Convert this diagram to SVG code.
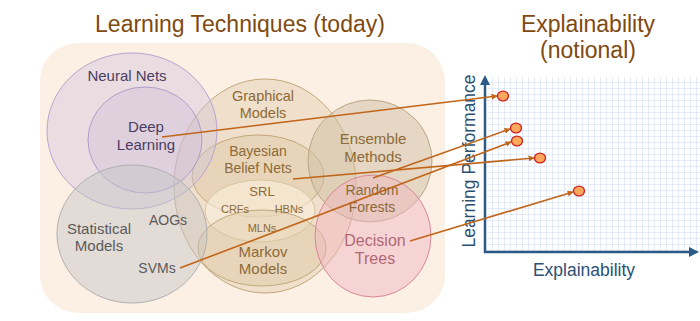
<svg xmlns="http://www.w3.org/2000/svg" width="700" height="321" viewBox="0 0 700 321">
<style>
text{font-family:"Liberation Sans",Arial,sans-serif;text-anchor:middle}
.title{font-size:23px;fill:#7F4A10}
.nn{font-size:15px;fill:#4A3D62}
.gm{font-size:14.5px;fill:#8C6A38}
.sm{font-size:11px;fill:#8C6A38}
.st{font-size:15px;fill:#5A5A5A}
.dt{font-size:16px;fill:#B06876}
.ax{font-size:17.5px;fill:#2B4F72}
.tan{fill:#D9C29C;fill-opacity:0.35;stroke:#C2A87C;stroke-width:1}
.lnk{stroke:#C0651A;stroke-width:1.6;fill:none;marker-end:url(#ah)}
.dot{fill:#F9A85C;stroke:#D02020;stroke-width:1.3}
</style>
<defs>
<marker id="ah" viewBox="0 0 10 10" refX="9" refY="5" markerWidth="6" markerHeight="6" orient="auto" markerUnits="userSpaceOnUse">
<path d="M0,0 L10,5 L0,10 z" fill="#C0651A"/>
</marker>
<marker id="axh" viewBox="0 0 10 10" refX="5" refY="5" markerWidth="10" markerHeight="10" orient="auto" markerUnits="userSpaceOnUse">
<path d="M0,0 L10,5 L0,10 z" fill="#2B5A87"/>
</marker>
<pattern id="grid" width="6" height="6" patternUnits="userSpaceOnUse" x="487" y="77">
<rect width="6" height="6" fill="#FFFFFF"/>
<path d="M6,0 L6,6 M0,6 L6,6" stroke="#CCD8F0" stroke-width="1" fill="none"/>
</pattern>
</defs>
<rect width="700" height="321" fill="#FFFFFF"/>
<text class="title" x="240" y="32">Learning Techniques (today)</text>
<text class="title" x="588" y="32">Explainability</text>
<text class="title" x="588" y="58">(notional)</text>
<rect id="panel" x="40" y="43" width="405" height="270" rx="38" fill="#FCEFE3"/>
<g id="graphical-models"><ellipse class="tan" cx="265" cy="186" rx="91" ry="107"/><text class="gm" x="263" y="101">Graphical</text><text class="gm" x="263" y="118">Models</text></g>
<g id="bayesian"><ellipse class="tan" cx="258" cy="176" rx="66" ry="41"/><text class="gm" x="258" y="156" style="font-size:14px">Bayesian</text><text class="gm" x="258" y="173" style="font-size:14px">Belief Nets</text></g>
<g id="srl"><ellipse cx="260" cy="211" rx="55" ry="31" fill="#FAF0DC" fill-opacity="0.6" stroke="#D8C4A0" stroke-width="1"/><text class="gm" x="262" y="196" style="font-size:13px">SRL</text></g>
<g id="markov"><ellipse class="tan" cx="262" cy="248" rx="64" ry="38"/><text class="gm" x="263" y="257" style="font-size:15px">Markov</text><text class="gm" x="263" y="274" style="font-size:15px">Models</text></g>
<g id="crfs"><text class="sm" x="235" y="213">CRFs</text></g>
<g id="hbns"><text class="sm" x="289" y="213">HBNs</text></g>
<g id="mlns"><text class="sm" x="262" y="232">MLNs</text></g>
<g id="neural-nets"><ellipse cx="132" cy="131" rx="85" ry="78" fill="#CFC2DE" fill-opacity="0.4" stroke="#B4A6CE" stroke-width="1"/><text class="nn" x="127" y="81">Neural Nets</text></g>
<g id="deep-learning"><ellipse cx="145" cy="140" rx="57" ry="53" fill="#C9B8D6" fill-opacity="0.35" stroke="#AE9ECA" stroke-width="1"/><text class="nn" x="146" y="132">Deep</text><text class="nn" x="146" y="150">Learning</text></g>
<g id="statistical-models"><ellipse cx="132" cy="234" rx="75" ry="69" fill="#C6C6C6" fill-opacity="0.45" stroke="#B0B0B0" stroke-width="1"/><text class="st" x="99" y="234">Statistical</text><text class="st" x="99" y="251">Models</text></g>
<g id="aogs"><text class="st" x="168" y="225" style="font-size:14px">AOGs</text></g>
<g id="svms"><text class="st" x="157" y="273" style="font-size:14px">SVMs</text></g>
<g id="ensemble"><ellipse cx="370" cy="161" rx="62" ry="61" fill="#CDBFA3" fill-opacity="0.5" stroke="#B9A787" stroke-width="1"/><text class="gm" x="373" y="144" style="font-size:15px">Ensemble</text><text class="gm" x="373" y="162" style="font-size:15px">Methods</text></g>
<g id="decision-trees"><ellipse cx="373" cy="236" rx="58" ry="61" fill="#F2B4C0" fill-opacity="0.45" stroke="#D88898" stroke-width="1"/><text class="dt" x="375" y="246">Decision</text><text class="dt" x="375" y="264">Trees</text></g>
<g id="random-forests"><text class="gm" x="372" y="195" style="font-size:14px">Random</text><text class="gm" x="372" y="212" style="font-size:14px">Forests</text></g>
<g id="chart">
<rect x="487" y="77" width="213" height="174" fill="url(#grid)"/>
<line x1="485" y1="253" x2="485" y2="80" stroke="#2B5A87" stroke-width="2.5" marker-end="url(#axh)"/>
<line x1="484" y1="252" x2="694" y2="252" stroke="#2B5A87" stroke-width="2.5" marker-end="url(#axh)"/>
<text class="ax" x="0" y="0" transform="translate(475,161) rotate(-90)">Learning Performance</text>
<text class="ax" x="584" y="276">Explainability</text>
</g>
<g id="connectors">
<line class="lnk" x1="162" y1="137" x2="497" y2="96"/>
<line class="lnk" x1="293" y1="179" x2="534" y2="158"/>
<line class="lnk" x1="373" y1="178" x2="510" y2="129"/>
<line class="lnk" x1="180" y1="268" x2="511" y2="142"/>
<line class="lnk" x1="410" y1="241" x2="573" y2="192"/>
</g>
<g id="points">
<ellipse class="dot" cx="503" cy="96" rx="5.5" ry="4.8"/>
<ellipse class="dot" cx="516" cy="128" rx="5.5" ry="4.8"/>
<ellipse class="dot" cx="517" cy="141" rx="5.5" ry="4.8"/>
<ellipse class="dot" cx="540" cy="158" rx="5.5" ry="4.8"/>
<ellipse class="dot" cx="579" cy="191" rx="5.5" ry="4.8"/>
</g>
</svg>
